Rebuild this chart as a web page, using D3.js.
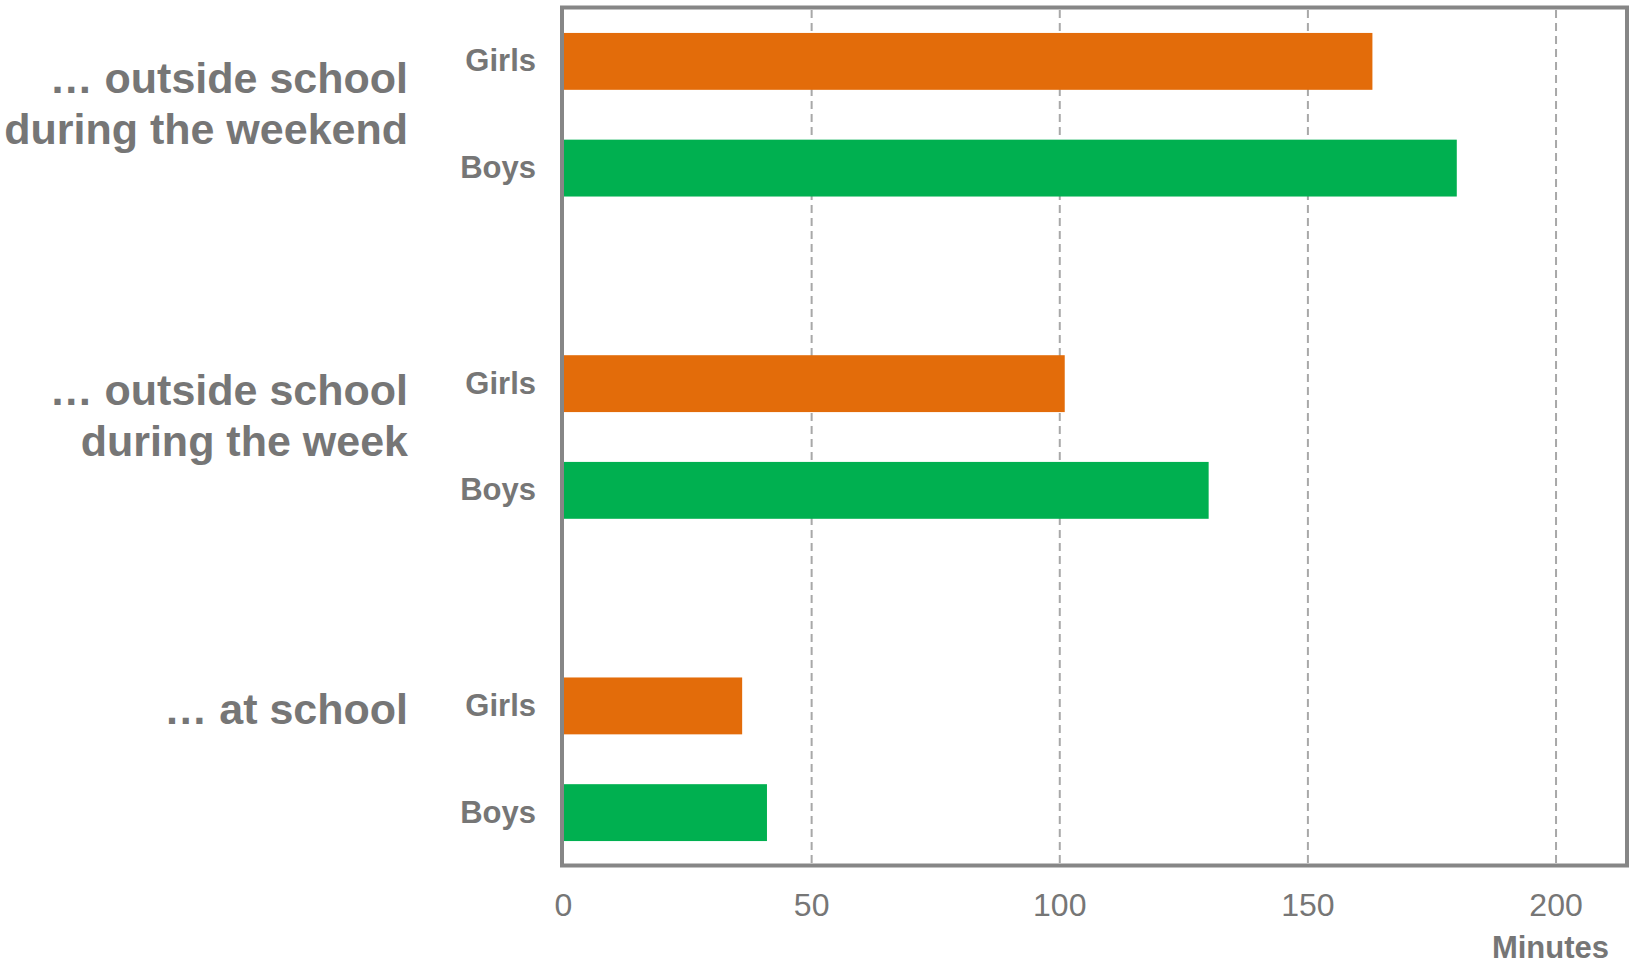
<!DOCTYPE html>
<html>
<head>
<meta charset="utf-8">
<script src="https://cdn.jsdelivr.net/npm/d3@7"></script>
<style>
  body { margin: 0; background: #fff; }
  svg { display: block; font-family: "Liberation Sans", Arial, sans-serif; }
  .cat { font-size: 43px; font-weight: bold; fill: #767676; }
  .sex { font-size: 31px; font-weight: bold; fill: #767676; }
  .tick-label { font-size: 32px; fill: #767676; }
  .axis-title { font-size: 31px; font-weight: bold; fill: #767676; }
  .grid { stroke: #a8a8a8; stroke-width: 2; stroke-dasharray: 8,5; }
</style>
</head>
<body>
<div id="viz"></div>
<script>
// Data
const groups = ["weekend", "week", "school"];
const groupLabels = [
    ["\u2026 outside school", "during the weekend"],
    ["\u2026 outside school", "during the week"],
    ["\u2026 at school"]
];
const sexes = ["Girls", "Boys"];
const girlsMinutes = [163, 101, 36];
const boysMinutes = [180, 130, 41];
const xTicks = [0, 50, 100, 150, 200];
const xMax = 214.3;

const W = 1629, H = 966;
const plot = { left: 563.5, right: 1627, top: 10, bottom: 864 };
const colors = { Girls: "#E36C0A", Boys: "#00B050" };
// baseline of first label line, measured from top of each group band
const labelOffsets = [83, 73, 69];
const labelLineHeight = 50.5;

const svg = d3.select("#viz")
    .append("svg")
    .attr("width", W)
    .attr("height", H);

const x = d3.scaleLinear()
    .domain([0, xMax])
    .range([plot.left, plot.right]);

const yGroup = d3.scaleBand()
    .domain(groups)
    .range([plot.top, plot.bottom])
    .paddingInner(0.35)
    .paddingOuter(0);

const ySex = d3.scaleBand()
    .domain(sexes)
    .range([0, yGroup.bandwidth()])
    .paddingInner(0.467)
    .paddingOuter(0.215);

const rows = [];
groups.forEach((g, i) => {
    rows.push({ group: g, sex: "Girls", value: girlsMinutes[i] });
    rows.push({ group: g, sex: "Boys", value: boysMinutes[i] });
});

// Gridlines
svg.append("g")
    .selectAll("line")
    .data(xTicks.filter(t => t > 0))
    .enter()
    .append("line")
    .attr("class", "grid")
    .attr("x1", d => x(d))
    .attr("x2", d => x(d))
    .attr("y1", plot.top)
    .attr("y2", plot.bottom);

// Bars
svg.append("g")
    .selectAll("rect")
    .data(rows)
    .enter()
    .append("rect")
    .attr("x", x(0))
    .attr("y", d => yGroup(d.group) + ySex(d.sex))
    .attr("width", d => x(d.value) - x(0))
    .attr("height", ySex.bandwidth())
    .attr("fill", d => colors[d.sex]);

// Frame
svg.append("rect")
    .attr("x", plot.left - 1.5)
    .attr("y", plot.top - 2.5)
    .attr("width", plot.right - plot.left + 1.5)
    .attr("height", plot.bottom - plot.top + 4)
    .attr("fill", "none")
    .attr("stroke", "#868686")
    .attr("stroke-width", 4);

// Girls / Boys labels
svg.append("g")
    .selectAll("text")
    .data(rows)
    .enter()
    .append("text")
    .attr("class", "sex")
    .attr("text-anchor", "end")
    .attr("x", 536)
    .attr("y", d => yGroup(d.group) + ySex(d.sex) + ySex.bandwidth() / 2 + 10)
    .text(d => d.sex);

// Category labels
const cats = svg.append("g")
    .selectAll("text")
    .data(groups)
    .enter()
    .append("text")
    .attr("class", "cat")
    .attr("text-anchor", "end");

cats.selectAll("tspan")
    .data((d, i) => groupLabels[i].map((line, k) => ({ line, k, i, g: d })))
    .enter()
    .append("tspan")
    .attr("x", 408)
    .attr("y", d => yGroup(d.g) + labelOffsets[d.i] + d.k * labelLineHeight)
    .text(d => d.line);

// X tick labels
svg.append("g")
    .selectAll("text")
    .data(xTicks)
    .enter()
    .append("text")
    .attr("class", "tick-label")
    .attr("text-anchor", "middle")
    .attr("x", d => x(d))
    .attr("y", 916)
    .text(d => d);

svg.append("text")
    .attr("class", "axis-title")
    .attr("text-anchor", "end")
    .attr("x", 1609)
    .attr("y", 958)
    .text("Minutes");
</script>
</body>
</html>
